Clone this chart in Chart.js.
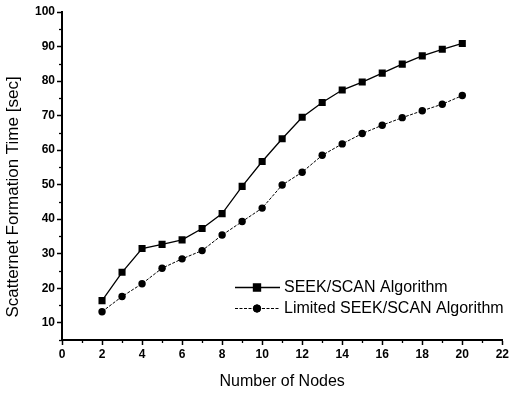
<!DOCTYPE html>
<html><head><meta charset="utf-8">
<script src="https://cdn.jsdelivr.net/npm/chart.js@4/dist/chart.umd.min.js"></script>
<style>html,body{margin:0;padding:0;background:#fff}#wrap{width:511px;height:397px;position:relative}</style>
</head><body><div id="wrap"><canvas id="c" width="511" height="397"></canvas></div>
<script>
const nodes = [2,3,4,5,6,7,8,9,10,11,12,13,14,15,16,17,18,19,20];
const seekScan = [16.4,24.6,31.5,32.7,34.0,37.3,41.6,49.5,56.7,63.3,69.5,73.8,77.4,79.7,82.3,84.9,87.3,89.2,90.9];
const limitedSeekScan = [13.2,17.6,21.3,25.8,28.5,30.9,35.4,39.3,43.2,49.9,53.6,58.5,61.8,64.8,67.2,69.4,71.4,73.3,75.8];
const seriesNames = ['SEEK/SCAN Algorithm','Limited SEEK/SCAN Algorithm'];
const xTickValues = [0,2,4,6,8,10,12,14,16,18,20,22];
const xMinorTicks = [1,3,5,7,9,11,13,15,17,19,21];
const yTickValues = [10,20,30,40,50,60,70,80,90,100];
const yMinorTicks = [5,15,25,35,45,55,65,75,85,95];
const xTitle = 'Number of Nodes';
const yTitle = 'Scatternet Formation Time [sec]';

const FONT = '"Liberation Sans", Arial, sans-serif';

const toPts = (ys) => nodes.map((x,i)=>({x:x,y:ys[i]}));

const extras = {
  id:'extras',
  afterDraw(chart){
    const ctx = chart.ctx;
    const xs = chart.scales.x, ys = chart.scales.y;
    ctx.save();
    ctx.strokeStyle = '#000';
    ctx.lineWidth = 1.3;
    // minor ticks
    xMinorTicks.forEach(v=>{
      const px = Math.round(xs.getPixelForValue(v))+0.5;
      ctx.beginPath(); ctx.moveTo(px, xs.top); ctx.lineTo(px, xs.top+3); ctx.stroke();
    });
    yMinorTicks.forEach(v=>{
      const py = Math.round(ys.getPixelForValue(v))+0.5;
      ctx.beginPath(); ctx.moveTo(ys.right, py); ctx.lineTo(ys.right-3, py); ctx.stroke();
    });
    // y title
    ctx.fillStyle = '#000';
    ctx.font = '17px ' + FONT;
    ctx.textAlign = 'center';
    ctx.textBaseline = 'middle';
    ctx.translate(13, 197);
    ctx.rotate(-Math.PI/2);
    ctx.fillText(yTitle, 0, 0);
    ctx.restore();
    // legend
    ctx.save();
    const rows = [{y:287, ds:chart.data.datasets[0]},{y:308, ds:chart.data.datasets[1]}];
    rows.forEach(r=>{
      ctx.strokeStyle = '#000';
      ctx.lineWidth = r.ds.borderWidth;
      ctx.setLineDash(r.ds.borderDash || []);
      ctx.beginPath(); ctx.moveTo(235, r.y+0.5); ctx.lineTo(280, r.y+0.5); ctx.stroke();
      ctx.setLineDash([]);
      Chart.helpers.drawPoint(ctx, {pointStyle:r.ds.pointStyle, radius:r.ds.pointRadius, borderWidth:1, rotation:0}, 257, r.y+0.5);
      ctx.fillStyle = '#000';
      ctx.fill();
      ctx.font = '16px ' + FONT;
      ctx.textAlign = 'left';
      ctx.textBaseline = 'middle';
      ctx.fillText(r.ds.label, 284, r.y+1);
    });
    ctx.restore();
  }
};

new Chart(document.getElementById('c'), {
  type:'scatter',
  data:{
    datasets:[
      {label:seriesNames[0], data:toPts(seekScan), showLine:true, borderColor:'#000', backgroundColor:'#000', borderWidth:1.3,
       pointStyle:'rect', pointRadius:5, pointHoverRadius:5, pointBorderWidth:0, tension:0},
      {label:seriesNames[1], data:toPts(limitedSeekScan), showLine:true, borderColor:'#000', backgroundColor:'#000', borderWidth:1,
       borderDash:[3,1.5], pointStyle:'circle', pointRadius:3.7, pointHoverRadius:3.7, pointBorderWidth:0, tension:0}
    ]
  },
  options:{
    responsive:false, animation:false, devicePixelRatio:1,
    layout:{padding:{top:12,right:7,left:0,bottom:0}},
    plugins:{legend:{display:false}, tooltip:{enabled:false}},
    scales:{
      x:{type:'linear', min:0, max:22,
        afterBuildTicks:s=>{s.ticks = xTickValues.map(v=>({value:v}));},
        afterFit:s=>{s.height = 57;},
        ticks:{font:{family:FONT,size:12,weight:'bold'}, color:'#000', padding:2, maxRotation:0, autoSkip:false},
        grid:{drawOnChartArea:false, drawTicks:true, tickLength:5, tickColor:'#000', tickWidth:1.5},
        border:{color:'#000', width:2},
        title:{display:true, text:xTitle, color:'#000', font:{family:FONT,size:16}, padding:{top:0,bottom:6}}
      },
      y:{type:'linear', min:5, max:100,
        afterBuildTicks:s=>{s.ticks = yTickValues.map(v=>({value:v}));},
        afterFit:s=>{s.width = 62;},
        ticks:{font:{family:FONT,size:12,weight:'bold'}, color:'#000', padding:2, autoSkip:false},
        grid:{drawOnChartArea:false, drawTicks:true, tickLength:5, tickColor:'#000', tickWidth:1.5},
        border:{color:'#000', width:2}
      }
    }
  },
  plugins:[extras]
});
</script></body></html>
